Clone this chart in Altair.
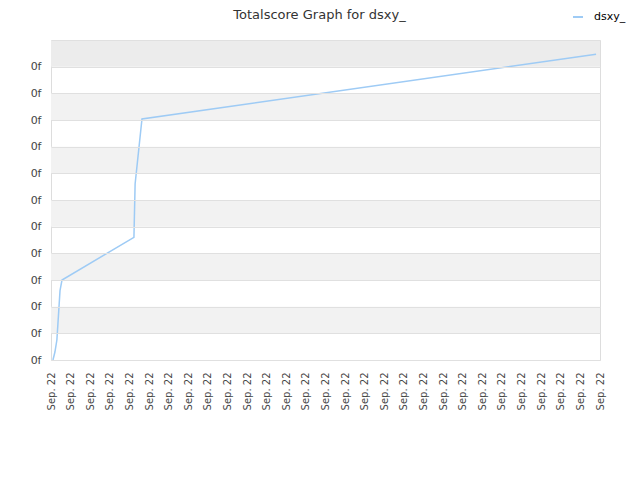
import altair as alt
import pandas as pd

series_name = "dsxy_"
x_vals = [0.1, 0.2, 0.3, 0.4, 0.46, 0.56, 4.23, 4.29, 4.64, 27.8]
y_vals = [0.0, 0.3, 0.75, 1.9, 2.6, 3.0, 4.6, 6.6, 9.04, 11.47]
band_lo = [1, 3, 5, 7, 9, 11]
band_hi = [2, 4, 6, 8, 10, 12]
band_col = ["#f2f2f2", "#f2f2f2", "#f2f2f2", "#f2f2f2", "#f2f2f2", "#ececec"]
x_ticks = list(range(0, 29))
y_ticks = list(range(0, 13))
x_label = "Sep. 22"
y_label = "0f"

line_df = pd.DataFrame({"x": x_vals, "y": y_vals, "s": [series_name] * len(x_vals)})
band_df = pd.DataFrame({"lo": band_lo, "hi": band_hi, "c": band_col})

xs = alt.Scale(domain=[0, 28], nice=False, zero=False)
ys = alt.Scale(domain=[0, 12], nice=False)

y_axis = alt.Axis(
    values=y_ticks,
    labelExpr=f"datum.value < 12 ? '{y_label}' : ''",
    labelFontSize=11,
    labelColor="#444",
    labelFont="DejaVu Sans",
    labelOverlap=False,
    grid=True,
    gridColor="#e0e0e0",
    ticks=False,
    domain=False,
    title=None,
    labelPadding=10,
    zindex=1,
)

x_axis = alt.Axis(
    values=x_ticks,
    labelExpr=f"'{x_label}'",
    labelAngle=270,
    labelAlign="right",
    labelBaseline="middle",
    labelFontSize=10,
    labelColor="#444",
    labelFont="DejaVu Sans",
    labelOverlap=False,
    grid=False,
    ticks=False,
    domain=False,
    title=None,
    labelPadding=12,
)

bands = alt.Chart(band_df).mark_rect().encode(
    x=alt.value(0),
    x2=alt.value(549),
    y=alt.Y("lo:Q", scale=ys, axis=y_axis),
    y2="hi:Q",
    color=alt.Color("c:N", scale=None),
)

line = alt.Chart(line_df).mark_line(strokeWidth=1.5, interpolate="linear").encode(
    x=alt.X("x:Q", scale=xs, axis=x_axis),
    y=alt.Y("y:Q", scale=ys, axis=y_axis),
    color=alt.Color(
        "s:N",
        scale=alt.Scale(range=["#9ecbf5"]),
        legend=alt.Legend(
            title=None,
            orient="none",
            legendX=521,
            legendY=-29,
            symbolType="stroke",
            symbolStrokeWidth=2,
            symbolSize=100,
            labelOffset=10,
            labelFontSize=11,
            labelFont="DejaVu Sans",
            labelColor="#000",
        ),
    ),
)

chart = (
    alt.layer(bands, line)
    .properties(
        width=549,
        height=320,
        autosize=alt.AutoSizeParams(type="none"),
        padding={"left": 43, "top": 32, "right": 32, "bottom": 100},
        title=alt.TitleParams(
            "Totalscore Graph for dsxy_",
            fontSize=13,
            font="DejaVu Sans",
            fontWeight="normal",
            color="#333",
            anchor="middle",
            baseline="alphabetic",
            offset=14,
            dy=35,
            dx=-6,
        ),
    )
    .configure_view(stroke="#dddddd", strokeWidth=1)
)

chart.save("out.html", embed_options={"renderer": "svg", "actions": False})
